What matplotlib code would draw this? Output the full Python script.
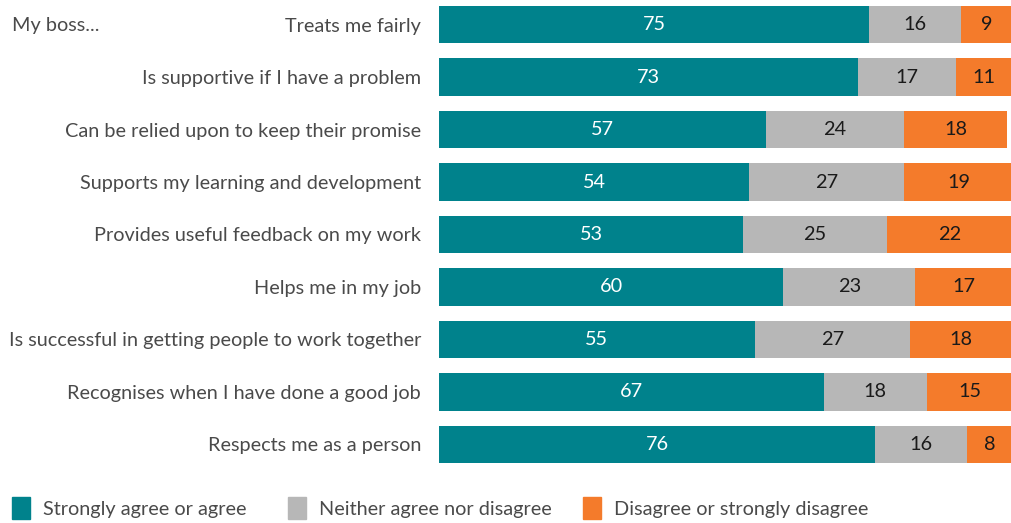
import matplotlib
matplotlib.use("Agg")
import matplotlib.pyplot as plt
from matplotlib.patches import Rectangle

plt.rcParams['font.family'] = ['Lato', 'DejaVu Sans']

categories = [
    "Treats me fairly",
    "Is supportive if I have a problem",
    "Can be relied upon to keep their promise",
    "Supports my learning and development",
    "Provides useful feedback on my work",
    "Helps me in my job",
    "Is successful in getting people to work together",
    "Recognises when I have done a good job",
    "Respects me as a person",
]
agree = [75, 73, 57, 54, 53, 60, 55, 67, 76]
neither = [16, 17, 24, 27, 25, 23, 27, 18, 16]
disagree = [9, 11, 18, 19, 22, 17, 18, 15, 8]
series_names = ["Strongly agree or agree", "Neither agree nor disagree",
                "Disagree or strongly disagree"]

colors = ["#00828C", "#B7B7B7", "#F47B2B"]
label_colors = ["white", "#1a1a1a", "#1a1a1a"]
text_color = "#4a4a4a"
fs = 14.3

W, H = 1012, 523
fig = plt.figure(figsize=(W / 100, H / 100), dpi=100)
ax = fig.add_axes([439 / W, (H - 463) / H, 574 / W, 457 / H])

ypos = list(range(len(categories)))
left = [0] * len(categories)
for vals, col, lcol in zip([agree, neither, disagree], colors, label_colors):
    bars = ax.barh(ypos, vals, left=left, height=0.71, color=col, edgecolor="none")
    ax.bar_label(bars, labels=[str(v) for v in vals], label_type="center",
                 color=lcol, fontsize=fs)
    left = [l + v for l, v in zip(left, vals)]

ax.set_xlim(0, 100)
ax.set_ylim(8.355, -0.355)
ax.set_yticks(ypos)
ax.set_yticklabels(categories, fontsize=fs, color=text_color)
ax.tick_params(axis="y", length=0, pad=13)
ax.set_xticks([])
for s in ax.spines.values():
    s.set_visible(False)

fig.text(12 / W, 1 - 26 / H, "My boss...", fontsize=fs, color=text_color,
         va="center", ha="left")

# Legend row along the bottom
legend_x = [12, 288, 583]
for x0, name, col in zip(legend_x, series_names, colors):
    fig.patches.append(Rectangle((x0 / W, 1 - 519 / H), 18 / W, 22 / H,
                                 transform=fig.transFigure, color=col))
    fig.text((x0 + 31) / W, 1 - 509 / H, name, fontsize=fs, color=text_color,
             va="center", ha="left")

fig.savefig("out.png", dpi=100)
